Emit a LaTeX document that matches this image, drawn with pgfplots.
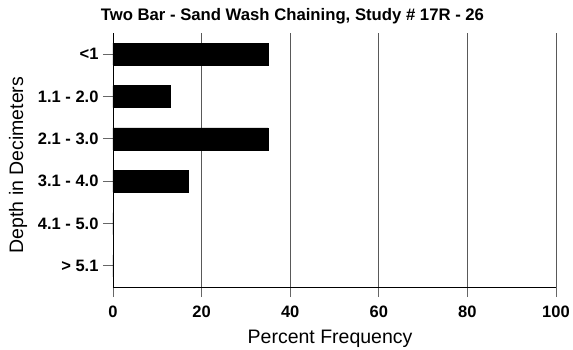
\documentclass[border=0pt]{standalone}
\usepackage{pgfplots}
\pgfplotsset{compat=1.18}
\usepackage{fontspec}
\setmainfont{Liberation Sans}

\begin{document}
\begin{tikzpicture}
\useasboundingbox (0,0) rectangle (573pt,349pt);
\begin{axis}[
  at={(113pt,62pt)}, anchor=south west,
  scale only axis,
  width=443pt, height=254pt,
  xbar, bar width=22pt,
  xmin=0, xmax=100,
  ymin=-0.5, ymax=5.5,
  y dir=reverse,
  axis x line*=bottom,
  axis y line*=left,
  axis line style={black, line width=0.8pt},
  xtick={0,20,40,60,80,100},
  ytick={0,1,2,3,4,5},
  yticklabels={<1, 1.1 - 2.0, 2.1 - 3.0, 3.1 - 4.0, 4.1 - 5.0, > 5.1},
  tick align=outside,
  major tick length=10pt,
  tick style={gray!80!black, line width=0.8pt},
  xmajorgrids,
  grid style={gray!70!black, line width=0.8pt},
  ticklabel style={font=\fontsize{16.5}{16.5}\selectfont\bfseries},
  /pgf/number format/assume math mode=true,
  xticklabel style={yshift=-5pt},
  yticklabel style={xshift=-1pt},
  title={Two Bar - Sand Wash Chaining, Study \# 17R - 26},
  title style={font=\fontsize{16.7}{17}\selectfont\bfseries, at={(axis description cs:0.405,1)}, anchor=base, yshift=7pt},
  xlabel={Percent Frequency},
  xlabel style={font=\fontsize{19.5}{19.5}\selectfont, at={(axis description cs:0.49,-0.205)}, anchor=center},
  ylabel={Depth in Decimeters},
  ylabel style={font=\fontsize{19.5}{19.5}\selectfont, at={(axis description cs:-0.214,0.48)}, anchor=center, rotate=0},
]
\addplot[fill=black, draw=black] coordinates {(35,0) (13,1) (35,2) (17,3) (0,4) (0,5)};
\end{axis}
\end{tikzpicture}
\end{document}
